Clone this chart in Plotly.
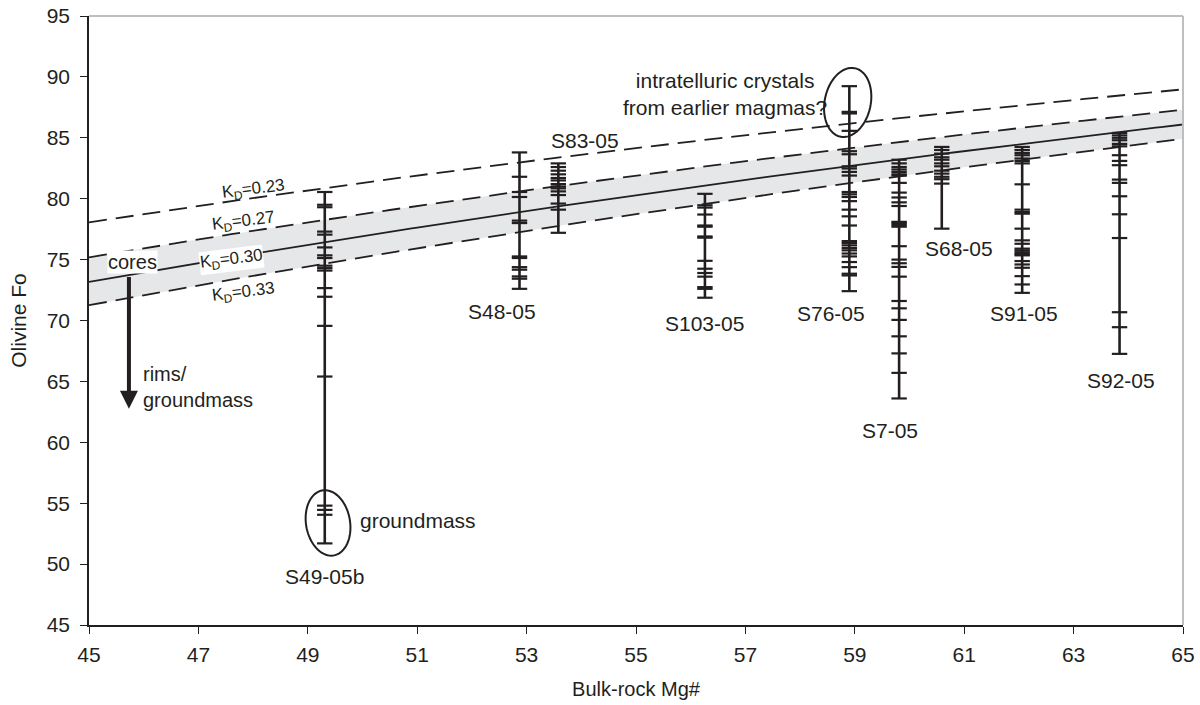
import numpy as np
import plotly.graph_objects as go

# Bulk-rock Mg# of each sample and the olivine Fo contents measured in it
samples = ["S49-05b", "S48-05", "S83-05", "S103-05", "S76-05", "S7-05", "S68-05", "S91-05", "S92-05"]
mg_number = [49.31, 52.87, 53.58, 56.26, 58.90, 59.81, 60.59, 62.06, 63.84]

fo_s49 = [80.55, 79.5, 79.3, 77.3, 77.05, 76.0, 75.35, 75.13, 74.5, 74.3, 74.1, 72.66, 71.95,
          69.56, 65.4, 54.8, 54.45, 54.05, 51.7]
fo_s48 = [83.8, 81.8, 80.55, 80.14, 78.2, 78.0, 75.26, 75.13, 74.38, 74.17, 73.62, 73.43, 72.6]
fo_s83 = [82.9, 82.6, 82.3, 82.0, 81.7, 81.5, 81.2, 81.0, 80.85, 80.6, 80.3, 79.6, 79.1, 77.2]
fo_s103 = [80.4, 79.46, 79.27, 78.7, 77.8, 77.7, 76.9, 76.8, 74.9, 74.25, 73.9, 73.6, 72.74,
           72.6, 71.87]
fo_s76 = [89.24, 87.13, 87.0, 85.57, 83.9, 83.65, 82.66, 82.48, 82.2, 81.9, 80.55, 80.36, 80.14,
          79.8, 79.1, 78.55, 77.8, 76.52, 76.36, 76.17, 75.95, 75.76, 75.5, 75.26, 74.8, 74.38,
          73.84, 73.7, 72.41]
fo_s7 = [83.2, 82.9, 82.6, 82.4, 82.2, 82.0, 81.9, 81.3, 80.5, 80.1, 79.7, 79.4, 78.1, 78.0,
         77.85, 77.7, 76.1, 75.0, 74.7, 74.4, 73.6, 71.6, 71.0, 70.05, 68.7, 67.3, 65.7, 63.6]
fo_s68 = [84.25, 84.0, 83.7, 83.4, 83.2, 82.9, 82.66, 82.3, 82.06, 81.8, 81.6, 81.24, 77.54]
fo_s91 = [84.25, 84.0, 83.76, 83.57, 83.3, 83.1, 82.9, 81.18, 79.1, 78.9, 78.77, 77.54, 76.58,
          76.3, 75.9, 75.75, 75.6, 75.45, 75.35, 74.88, 74.6, 74.33, 73.64, 72.96, 72.27]
fo_s92 = [85.4, 85.2, 85.0, 84.8, 84.5, 84.3, 83.57, 83.1, 82.75, 81.57, 81.3, 80.2, 78.72,
          76.77, 70.68, 69.45, 67.26]
fo_values = [fo_s49, fo_s48, fo_s83, fo_s103, fo_s76, fo_s7, fo_s68, fo_s91, fo_s92]

# Olivine-liquid Fe-Mg exchange coefficients drawn as equilibrium curves
kd_band = (0.27, 0.33)
kd_solid = 0.30
kd_dashed = [0.23, 0.27, 0.33]

X_RANGE = [45, 65]
Y_RANGE = [45, 95]
INK = "#231f20"
FONT = "Liberation Sans, Arial, sans-serif"

# plot area in pixels (used for sizing the ellipse shapes)
MARGIN = dict(l=89, r=17, t=16, b=80)
W, H = 1200, 705
PX_X = (W - MARGIN["l"] - MARGIN["r"]) / (X_RANGE[1] - X_RANGE[0])
PX_Y = (H - MARGIN["t"] - MARGIN["b"]) / (Y_RANGE[1] - Y_RANGE[0])


def fo_equilibrium(mg, kd):
    """Fo of olivine in equilibrium with a melt of Mg# mg for a given KD."""
    mg = np.asarray(mg, dtype=float)
    return 100.0 / (1.0 + kd * (100.0 - mg) / mg)


mg_grid = np.linspace(X_RANGE[0], X_RANGE[1], 201)

fig = go.Figure()

# grey band between the KD = 0.27 and KD = 0.33 curves
fig.add_trace(go.Scatter(x=mg_grid, y=fo_equilibrium(mg_grid, kd_band[0]), mode="lines",
                         line=dict(width=0), hoverinfo="skip", showlegend=False))
fig.add_trace(go.Scatter(x=mg_grid, y=fo_equilibrium(mg_grid, kd_band[1]), mode="lines",
                         line=dict(width=0), fill="tonexty", fillcolor="#e6e7e8",
                         hoverinfo="skip", showlegend=False))

for kd in kd_dashed:
    fig.add_trace(go.Scatter(x=mg_grid, y=fo_equilibrium(mg_grid, kd), mode="lines",
                             line=dict(color=INK, width=1.8, dash="18px,9px"),
                             hoverinfo="skip", showlegend=False))
fig.add_trace(go.Scatter(x=mg_grid, y=fo_equilibrium(mg_grid, kd_solid), mode="lines",
                         line=dict(color=INK, width=1.8), hoverinfo="skip", showlegend=False))

# analysed olivine ranges: vertical bar plus a tick for each analysis
for name, mg, fo in zip(samples, mg_number, fo_values):
    fig.add_trace(go.Scatter(x=[mg, mg], y=[min(fo), max(fo)], mode="lines",
                             line=dict(color=INK, width=2.6), name=name, showlegend=False))
    fig.add_trace(go.Scatter(x=[mg] * len(fo), y=fo, mode="markers",
                             marker=dict(symbol="line-ew", size=11,
                                         line=dict(color=INK, width=2.2)),
                             name=name, showlegend=False))

# sample labels
label_pos = {
    "S49-05b": (49.31, 48.95), "S48-05": (52.55, 70.74), "S83-05": (54.07, 84.8),
    "S103-05": (56.26, 69.75), "S76-05": (58.56, 70.58), "S7-05": (59.64, 60.95),
    "S68-05": (60.9, 75.9), "S91-05": (62.09, 70.58), "S92-05": (63.87, 65.07),
}
for name in samples:
    lx, ly = label_pos[name]
    fig.add_annotation(x=lx, y=ly, text=name, showarrow=False,
                       font=dict(size=21, color=INK, family=FONT))

# KD labels along the curves
kd_labels = [
    ("K<sub>D</sub>=0.23", 48.0, 80.69, None),
    ("K<sub>D</sub>=0.27", 47.82, 78.06, None),
    ("K<sub>D</sub>=0.30", 47.6, 74.93, "white"),
    ("K<sub>D</sub>=0.33", 47.82, 72.22, None),
]
for text, lx, ly, bg in kd_labels:
    fig.add_annotation(x=lx, y=ly, text=text, showarrow=False, textangle=-7,
                       bgcolor=bg, borderpad=0,
                       font=dict(size=17, color=INK, family=FONT))

# cores -> rims arrow
fig.add_annotation(x=45.73, y=62.76, ax=45.73, ay=73.7, xref="x", yref="y",
                   axref="x", ayref="y", showarrow=True, arrowhead=2, arrowsize=0.9,
                   arrowwidth=4, arrowcolor=INK, text="")
fig.add_annotation(x=45.8, y=74.77, text="cores", showarrow=False, bgcolor="white",
                   borderpad=0, font=dict(size=20, color=INK, family=FONT))
fig.add_annotation(x=45.95, y=64.57, text="rims/<br>groundmass", showarrow=False,
                   xanchor="left", align="left", font=dict(size=20, color=INK, family=FONT))
fig.add_annotation(x=49.92, y=53.55, text="groundmass", showarrow=False, xanchor="left",
                   font=dict(size=21, color=INK, family=FONT))
fig.add_annotation(x=56.62, y=88.6, text="intratelluric crystals<br>from earlier magmas?",
                   showarrow=False, align="center",
                   font=dict(size=21, color=INK, family=FONT))


def ellipse_path(cx, cy, rx_px, ry_px, angle_deg, n=72):
    """SVG path of a rotated ellipse, sized in pixels, centred at data (cx, cy)."""
    t = np.linspace(0, 2 * np.pi, n)
    a = np.radians(angle_deg)
    dx = rx_px * np.cos(t)
    dy = ry_px * np.sin(t)
    rx = dx * np.cos(a) - dy * np.sin(a)
    ry = dx * np.sin(a) + dy * np.cos(a)
    xs = cx + rx / PX_X
    ys = cy + ry / PX_Y
    pts = [f"{x:.4f},{y:.4f}" for x, y in zip(xs, ys)]
    return "M" + " L".join(pts) + " Z"


fig.add_shape(type="path", path=ellipse_path(58.87, 87.9, 23, 35, -12),
              line=dict(color=INK, width=2), xref="x", yref="y")
fig.add_shape(type="path", path=ellipse_path(49.37, 53.38, 22, 33, 10),
              line=dict(color=INK, width=2), xref="x", yref="y")

# light frame on top and right
fig.add_shape(type="line", xref="paper", yref="paper", x0=0, x1=1, y0=1, y1=1,
              line=dict(color="#bcbec0", width=2))
fig.add_shape(type="line", xref="paper", yref="paper", x0=1, x1=1, y0=0, y1=1,
              line=dict(color="#bcbec0", width=2))

fig.update_layout(
    width=W, height=H, margin=MARGIN,
    paper_bgcolor="white", plot_bgcolor="white",
    font=dict(family=FONT, color=INK),
    xaxis=dict(range=X_RANGE, tickmode="array", tickvals=list(range(45, 66, 2)),
               showgrid=False, zeroline=False, showline=True, linecolor=INK, linewidth=1.5,
               ticks="outside", ticklen=7, tickcolor=INK, tickfont=dict(size=21),
               ticklabelstandoff=3, automargin=False,
               title=dict(text="Bulk-rock Mg#", font=dict(size=20), standoff=17)),
    yaxis=dict(range=Y_RANGE, tickmode="array", tickvals=list(range(45, 96, 5)),
               showgrid=False, zeroline=False, showline=True, linecolor=INK, linewidth=1.5,
               ticks="outside", ticklen=7, tickcolor=INK, tickfont=dict(size=21),
               ticklabelstandoff=6, automargin=False,
               title=dict(text="Olivine Fo", font=dict(size=21), standoff=14)),
)

fig.write_html("out.html")
